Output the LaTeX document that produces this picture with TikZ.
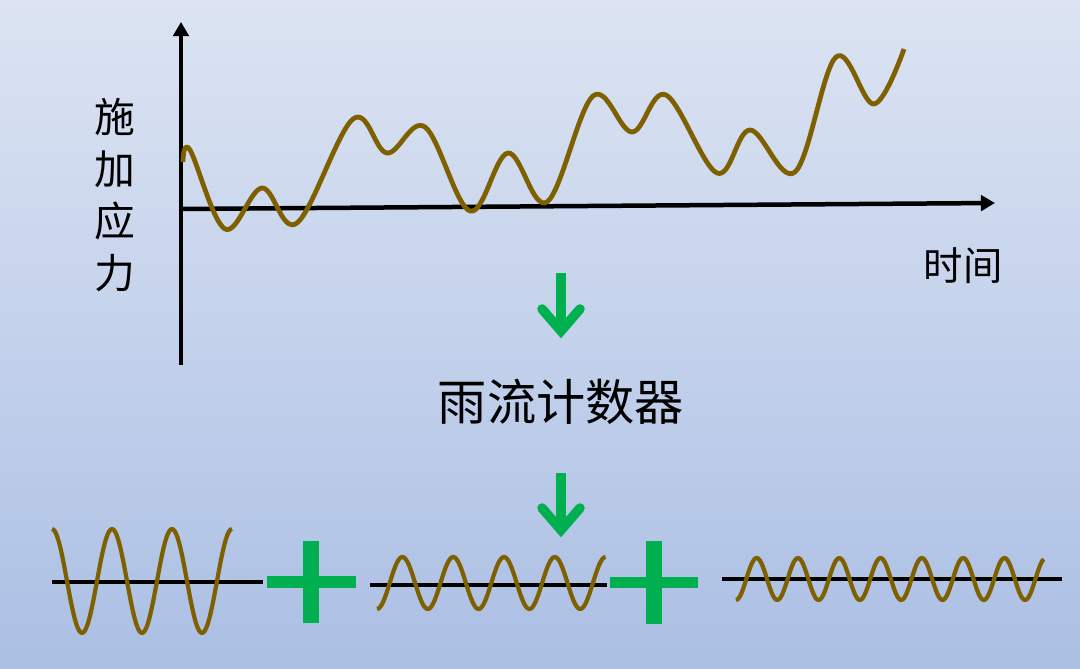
\documentclass[tikz,border=0pt]{standalone}
\usepackage{fontspec}
\newfontfamily\cjk{Noto Sans CJK SC}
\usepackage{tikz}
\usetikzlibrary{calc}
\usetikzlibrary{arrows.meta}

\definecolor{marrom}{HTML}{7F6000}
\definecolor{verde}{HTML}{00B050}
\definecolor{fundocima}{HTML}{DCE4F2}
\definecolor{fundobaixo}{HTML}{ABBFE4}

\tikzset{
	eixo/.style= {line width= 3.2pt, -{Triangle[length= 10pt, width= 11pt]}},
	onda/.style= {line width= 3.4pt, marrom, line join= round},
	ondinha/.style= {line width= 3pt, marrom, line join= round},
	base/.style= {line width= 3.4pt, black},
	seta/.style= {line width= 6.8pt, verde},
	rotulo/.style= {font= \cjk\fontsize{28}{37}\selectfont, align= center, inner sep= 0pt},
}

\begin{document}
\begin{tikzpicture}[x= 0.025cm, y= -0.025cm]
	% fundo
	\shade [top color= fundocima, bottom color= fundobaixo] (0,0) rectangle (1080,669);
	\useasboundingbox (0,0) rectangle (1080,669);

	% eixos
	\coordinate (origem) at (181,365);
	\coordinate (topo) at (181,22);
	\coordinate (zero) at (181,209);
	\coordinate (fim) at (995,203);
	\draw [eixo] (origem) -- (topo);
	\draw [eixo] (zero) -- (fim);

	% sinal de tensao
	\draw [onda] plot [smooth, tension= 0.6] coordinates {
		(183,162) (190,150) (225,229) (262,188) (297,223) (353,119) (387,153)
		(425,127) (470,211) (508,153) (547,202) (593,96) (632,132) (666,95)
		(717,173) (750,130) (795,172) (836,57) (874,104) (904,49)};

	\node [rotulo, font= \cjk\fontsize{29}{37}\selectfont] (tensao) at (115,195) {施\\加\\应\\力};
	\node [rotulo] (tempo) at (963,266) {时间};

	% seta 1
	\coordinate (s1a) at (561,273);
	\coordinate (s1b) at (561,331);
	\draw [seta] (s1a) -- (s1b);
	\draw [seta, line cap= round, miter limit= 10] ($(s1b)+(-19,-22)$) -- (s1b) -- ($(s1b)+(19,-22)$);

	\node [rotulo, font= \cjk\fontsize{35}{40}\selectfont] (contador) at (561,402) {雨流计数器};

	% seta 2
	\coordinate (s2a) at (561,473);
	\coordinate (s2b) at (561,530);
	\draw [seta] (s2a) -- (s2b);
	\draw [seta, line cap= round, miter limit= 10] ($(s2b)+(-19,-22)$) -- (s2b) -- ($(s2b)+(19,-22)$);

	% ciclos grandes
	\coordinate (l1a) at (52,582);
	\coordinate (l1b) at (263,582);
	\draw [base] (l1a) -- (l1b);
	\draw [ondinha] plot [domain= 0:3, samples= 120] ({52+60*\x}, {581-52*cos(360*\x)});

	\fill [verde] (267,576) rectangle (356,588);
	\fill [verde] (303,541) rectangle (319,623);

	% ciclos medios
	\coordinate (l2a) at (370,585);
	\coordinate (l2b) at (607,585);
	\draw [base] (l2a) -- (l2b);
	\draw [ondinha] plot [domain= 0:4.5, samples= 150] ({377+50.8*\x}, {583+26*cos(360*\x)});

	\fill [verde] (610,577) rectangle (698,588);
	\fill [verde] (646,541) rectangle (662,624);

	% ciclos pequenos
	\coordinate (l3a) at (722,579);
	\coordinate (l3b) at (1062,579);
	\draw [base] (l3a) -- (l3b);
	\draw [ondinha] plot [domain= 0:7.45, samples= 220] ({736+41.3*\x}, {579+21*cos(360*\x)});

\end{tikzpicture}
\end{document}
